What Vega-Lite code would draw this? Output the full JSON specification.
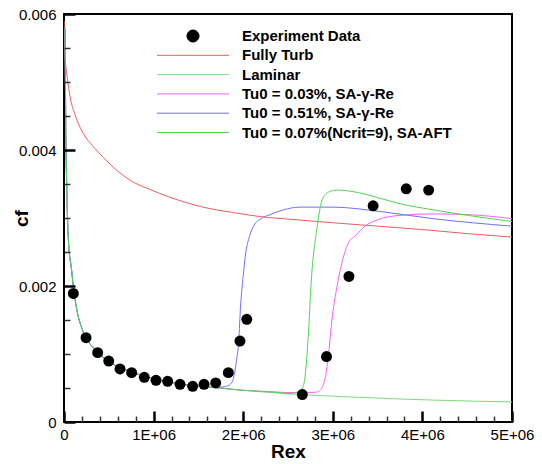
{
  "$schema": "https://vega.github.io/schema/vega-lite/v6.json",
  "width": 448,
  "height": 408,
  "autosize": {"type": "none"},
  "padding": {"left": 64, "top": 14, "right": 30, "bottom": 42},
  "background": "white",
  "config": {
    "view": {"stroke": "black", "strokeWidth": 2},
    "axis": {"grid": false, "domain": false, "labelFont": "Liberation Sans", "labelFontSize": 15, "labelColor": "black", "titleFont": "Liberation Sans", "titleFontSize": 19, "titleFontWeight": "bold", "titleColor": "black", "labelFlush": false, "labelOverlap": false, "labelBound": false}
  },
  "datasets": {
    "pts": [
      {"series": "Experiment Data", "Rex": 104000, "cf": 0.00189},
      {"series": "Experiment Data", "Rex": 246000, "cf": 0.00124},
      {"series": "Experiment Data", "Rex": 376000, "cf": 0.00102},
      {"series": "Experiment Data", "Rex": 499000, "cf": 0.000897},
      {"series": "Experiment Data", "Rex": 625000, "cf": 0.00078},
      {"series": "Experiment Data", "Rex": 755000, "cf": 0.000726},
      {"series": "Experiment Data", "Rex": 896000, "cf": 0.000657},
      {"series": "Experiment Data", "Rex": 1027000, "cf": 0.000613},
      {"series": "Experiment Data", "Rex": 1157000, "cf": 0.000599},
      {"series": "Experiment Data", "Rex": 1295000, "cf": 0.000554},
      {"series": "Experiment Data", "Rex": 1436000, "cf": 0.000525},
      {"series": "Experiment Data", "Rex": 1563000, "cf": 0.000554},
      {"series": "Experiment Data", "Rex": 1693000, "cf": 0.000574},
      {"series": "Experiment Data", "Rex": 1834000, "cf": 0.000726},
      {"series": "Experiment Data", "Rex": 1964000, "cf": 0.00119},
      {"series": "Experiment Data", "Rex": 2040000, "cf": 0.00151},
      {"series": "Experiment Data", "Rex": 2660000, "cf": 0.000403},
      {"series": "Experiment Data", "Rex": 2930000, "cf": 0.000962},
      {"series": "Experiment Data", "Rex": 3180000, "cf": 0.00214},
      {"series": "Experiment Data", "Rex": 3450000, "cf": 0.00318},
      {"series": "Experiment Data", "Rex": 3820000, "cf": 0.00343},
      {"series": "Experiment Data", "Rex": 4070000, "cf": 0.00341}
    ],
    "curves": [
      {"series": "Fully Turb", "Rex": 1000, "cf": 0.0059},
      {"series": "Fully Turb", "Rex": 10000, "cf": 0.0054},
      {"series": "Fully Turb", "Rex": 33000, "cf": 0.0051},
      {"series": "Fully Turb", "Rex": 70000, "cf": 0.00477},
      {"series": "Fully Turb", "Rex": 123000, "cf": 0.00452},
      {"series": "Fully Turb", "Rex": 200000, "cf": 0.00428},
      {"series": "Fully Turb", "Rex": 327000, "cf": 0.00405},
      {"series": "Fully Turb", "Rex": 440000, "cf": 0.00389},
      {"series": "Fully Turb", "Rex": 590000, "cf": 0.0037},
      {"series": "Fully Turb", "Rex": 770000, "cf": 0.00353},
      {"series": "Fully Turb", "Rex": 960000, "cf": 0.00342},
      {"series": "Fully Turb", "Rex": 1150000, "cf": 0.00332},
      {"series": "Fully Turb", "Rex": 1330000, "cf": 0.00324},
      {"series": "Fully Turb", "Rex": 1520000, "cf": 0.00317},
      {"series": "Fully Turb", "Rex": 1700000, "cf": 0.00312},
      {"series": "Fully Turb", "Rex": 1890000, "cf": 0.00308},
      {"series": "Fully Turb", "Rex": 2080000, "cf": 0.00304},
      {"series": "Fully Turb", "Rex": 2260000, "cf": 0.00301},
      {"series": "Fully Turb", "Rex": 2450000, "cf": 0.00299},
      {"series": "Fully Turb", "Rex": 2630000, "cf": 0.00297},
      {"series": "Fully Turb", "Rex": 3000000, "cf": 0.00293},
      {"series": "Fully Turb", "Rex": 3500000, "cf": 0.00288},
      {"series": "Fully Turb", "Rex": 4000000, "cf": 0.00283},
      {"series": "Fully Turb", "Rex": 4500000, "cf": 0.00277},
      {"series": "Fully Turb", "Rex": 5000000, "cf": 0.00272},

      {"series": "Laminar", "Rex": 12000, "cf": 0.0058},
      {"series": "Laminar", "Rex": 20000, "cf": 0.0043},
      {"series": "Laminar", "Rex": 30000, "cf": 0.0035},
      {"series": "Laminar", "Rex": 48000, "cf": 0.0027},
      {"series": "Laminar", "Rex": 86000, "cf": 0.00222},
      {"series": "Laminar", "Rex": 104000, "cf": 0.00199},
      {"series": "Laminar", "Rex": 142000, "cf": 0.00166},
      {"series": "Laminar", "Rex": 216000, "cf": 0.00132},
      {"series": "Laminar", "Rex": 327000, "cf": 0.00109},
      {"series": "Laminar", "Rex": 513000, "cf": 0.00088},
      {"series": "Laminar", "Rex": 700000, "cf": 0.00076},
      {"series": "Laminar", "Rex": 885000, "cf": 0.00068},
      {"series": "Laminar", "Rex": 1070000, "cf": 0.000615},
      {"series": "Laminar", "Rex": 1370000, "cf": 0.000545},
      {"series": "Laminar", "Rex": 1700000, "cf": 0.000505},
      {"series": "Laminar", "Rex": 2000000, "cf": 0.000466},
      {"series": "Laminar", "Rex": 2500000, "cf": 0.000415},
      {"series": "Laminar", "Rex": 3190000, "cf": 0.000368},
      {"series": "Laminar", "Rex": 4120000, "cf": 0.000322},
      {"series": "Laminar", "Rex": 5000000, "cf": 0.000295},

      {"series": "Tu0 = 0.03%, SA-γ-Re", "Rex": 12000, "cf": 0.0058},
      {"series": "Tu0 = 0.03%, SA-γ-Re", "Rex": 20000, "cf": 0.0043},
      {"series": "Tu0 = 0.03%, SA-γ-Re", "Rex": 30000, "cf": 0.0035},
      {"series": "Tu0 = 0.03%, SA-γ-Re", "Rex": 48000, "cf": 0.0027},
      {"series": "Tu0 = 0.03%, SA-γ-Re", "Rex": 86000, "cf": 0.00222},
      {"series": "Tu0 = 0.03%, SA-γ-Re", "Rex": 104000, "cf": 0.00199},
      {"series": "Tu0 = 0.03%, SA-γ-Re", "Rex": 142000, "cf": 0.00166},
      {"series": "Tu0 = 0.03%, SA-γ-Re", "Rex": 216000, "cf": 0.00132},
      {"series": "Tu0 = 0.03%, SA-γ-Re", "Rex": 327000, "cf": 0.00109},
      {"series": "Tu0 = 0.03%, SA-γ-Re", "Rex": 513000, "cf": 0.00088},
      {"series": "Tu0 = 0.03%, SA-γ-Re", "Rex": 700000, "cf": 0.00076},
      {"series": "Tu0 = 0.03%, SA-γ-Re", "Rex": 885000, "cf": 0.00068},
      {"series": "Tu0 = 0.03%, SA-γ-Re", "Rex": 1070000, "cf": 0.000615},
      {"series": "Tu0 = 0.03%, SA-γ-Re", "Rex": 1370000, "cf": 0.000545},
      {"series": "Tu0 = 0.03%, SA-γ-Re", "Rex": 1700000, "cf": 0.000505},
      {"series": "Tu0 = 0.03%, SA-γ-Re", "Rex": 2000000, "cf": 0.000466},
      {"series": "Tu0 = 0.03%, SA-γ-Re", "Rex": 2300000, "cf": 0.000445},
      {"series": "Tu0 = 0.03%, SA-γ-Re", "Rex": 2600000, "cf": 0.00043},
      {"series": "Tu0 = 0.03%, SA-γ-Re", "Rex": 2820000, "cf": 0.00044},
      {"series": "Tu0 = 0.03%, SA-γ-Re", "Rex": 2860000, "cf": 0.00047},
      {"series": "Tu0 = 0.03%, SA-γ-Re", "Rex": 2910000, "cf": 0.00062},
      {"series": "Tu0 = 0.03%, SA-γ-Re", "Rex": 2950000, "cf": 0.00096},
      {"series": "Tu0 = 0.03%, SA-γ-Re", "Rex": 2990000, "cf": 0.0015},
      {"series": "Tu0 = 0.03%, SA-γ-Re", "Rex": 3040000, "cf": 0.00194},
      {"series": "Tu0 = 0.03%, SA-γ-Re", "Rex": 3100000, "cf": 0.00233},
      {"series": "Tu0 = 0.03%, SA-γ-Re", "Rex": 3170000, "cf": 0.00262},
      {"series": "Tu0 = 0.03%, SA-γ-Re", "Rex": 3270000, "cf": 0.00276},
      {"series": "Tu0 = 0.03%, SA-γ-Re", "Rex": 3350000, "cf": 0.00287},
      {"series": "Tu0 = 0.03%, SA-γ-Re", "Rex": 3490000, "cf": 0.00297},
      {"series": "Tu0 = 0.03%, SA-γ-Re", "Rex": 3760000, "cf": 0.00304},
      {"series": "Tu0 = 0.03%, SA-γ-Re", "Rex": 4120000, "cf": 0.00306},
      {"series": "Tu0 = 0.03%, SA-γ-Re", "Rex": 4500000, "cf": 0.00305},
      {"series": "Tu0 = 0.03%, SA-γ-Re", "Rex": 5000000, "cf": 0.00299},

      {"series": "Tu0 = 0.51%, SA-γ-Re", "Rex": 12000, "cf": 0.0058},
      {"series": "Tu0 = 0.51%, SA-γ-Re", "Rex": 20000, "cf": 0.0043},
      {"series": "Tu0 = 0.51%, SA-γ-Re", "Rex": 30000, "cf": 0.0035},
      {"series": "Tu0 = 0.51%, SA-γ-Re", "Rex": 48000, "cf": 0.0027},
      {"series": "Tu0 = 0.51%, SA-γ-Re", "Rex": 86000, "cf": 0.00222},
      {"series": "Tu0 = 0.51%, SA-γ-Re", "Rex": 104000, "cf": 0.00199},
      {"series": "Tu0 = 0.51%, SA-γ-Re", "Rex": 142000, "cf": 0.00166},
      {"series": "Tu0 = 0.51%, SA-γ-Re", "Rex": 216000, "cf": 0.00132},
      {"series": "Tu0 = 0.51%, SA-γ-Re", "Rex": 327000, "cf": 0.00109},
      {"series": "Tu0 = 0.51%, SA-γ-Re", "Rex": 513000, "cf": 0.00088},
      {"series": "Tu0 = 0.51%, SA-γ-Re", "Rex": 700000, "cf": 0.00076},
      {"series": "Tu0 = 0.51%, SA-γ-Re", "Rex": 885000, "cf": 0.00068},
      {"series": "Tu0 = 0.51%, SA-γ-Re", "Rex": 1070000, "cf": 0.000615},
      {"series": "Tu0 = 0.51%, SA-γ-Re", "Rex": 1370000, "cf": 0.000545},
      {"series": "Tu0 = 0.51%, SA-γ-Re", "Rex": 1700000, "cf": 0.00051},
      {"series": "Tu0 = 0.51%, SA-γ-Re", "Rex": 1800000, "cf": 0.00052},
      {"series": "Tu0 = 0.51%, SA-γ-Re", "Rex": 1860000, "cf": 0.00056},
      {"series": "Tu0 = 0.51%, SA-γ-Re", "Rex": 1890000, "cf": 0.00064},
      {"series": "Tu0 = 0.51%, SA-γ-Re", "Rex": 1920000, "cf": 0.00086},
      {"series": "Tu0 = 0.51%, SA-γ-Re", "Rex": 1950000, "cf": 0.0012},
      {"series": "Tu0 = 0.51%, SA-γ-Re", "Rex": 1970000, "cf": 0.00169},
      {"series": "Tu0 = 0.51%, SA-γ-Re", "Rex": 2000000, "cf": 0.00215},
      {"series": "Tu0 = 0.51%, SA-γ-Re", "Rex": 2030000, "cf": 0.0025},
      {"series": "Tu0 = 0.51%, SA-γ-Re", "Rex": 2070000, "cf": 0.00273},
      {"series": "Tu0 = 0.51%, SA-γ-Re", "Rex": 2120000, "cf": 0.00289},
      {"series": "Tu0 = 0.51%, SA-γ-Re", "Rex": 2200000, "cf": 0.00299},
      {"series": "Tu0 = 0.51%, SA-γ-Re", "Rex": 2300000, "cf": 0.00305},
      {"series": "Tu0 = 0.51%, SA-γ-Re", "Rex": 2450000, "cf": 0.00312},
      {"series": "Tu0 = 0.51%, SA-γ-Re", "Rex": 2630000, "cf": 0.00316},
      {"series": "Tu0 = 0.51%, SA-γ-Re", "Rex": 3000000, "cf": 0.00316},
      {"series": "Tu0 = 0.51%, SA-γ-Re", "Rex": 3560000, "cf": 0.00309},
      {"series": "Tu0 = 0.51%, SA-γ-Re", "Rex": 4120000, "cf": 0.00299},
      {"series": "Tu0 = 0.51%, SA-γ-Re", "Rex": 5000000, "cf": 0.00288},

      {"series": "Tu0 = 0.07%(Ncrit=9), SA-AFT", "Rex": 12000, "cf": 0.0058},
      {"series": "Tu0 = 0.07%(Ncrit=9), SA-AFT", "Rex": 20000, "cf": 0.0043},
      {"series": "Tu0 = 0.07%(Ncrit=9), SA-AFT", "Rex": 30000, "cf": 0.0035},
      {"series": "Tu0 = 0.07%(Ncrit=9), SA-AFT", "Rex": 48000, "cf": 0.0027},
      {"series": "Tu0 = 0.07%(Ncrit=9), SA-AFT", "Rex": 86000, "cf": 0.00222},
      {"series": "Tu0 = 0.07%(Ncrit=9), SA-AFT", "Rex": 104000, "cf": 0.00199},
      {"series": "Tu0 = 0.07%(Ncrit=9), SA-AFT", "Rex": 142000, "cf": 0.00166},
      {"series": "Tu0 = 0.07%(Ncrit=9), SA-AFT", "Rex": 216000, "cf": 0.00132},
      {"series": "Tu0 = 0.07%(Ncrit=9), SA-AFT", "Rex": 327000, "cf": 0.00109},
      {"series": "Tu0 = 0.07%(Ncrit=9), SA-AFT", "Rex": 513000, "cf": 0.00088},
      {"series": "Tu0 = 0.07%(Ncrit=9), SA-AFT", "Rex": 700000, "cf": 0.00076},
      {"series": "Tu0 = 0.07%(Ncrit=9), SA-AFT", "Rex": 885000, "cf": 0.00068},
      {"series": "Tu0 = 0.07%(Ncrit=9), SA-AFT", "Rex": 1070000, "cf": 0.000615},
      {"series": "Tu0 = 0.07%(Ncrit=9), SA-AFT", "Rex": 1370000, "cf": 0.000545},
      {"series": "Tu0 = 0.07%(Ncrit=9), SA-AFT", "Rex": 1700000, "cf": 0.000505},
      {"series": "Tu0 = 0.07%(Ncrit=9), SA-AFT", "Rex": 2000000, "cf": 0.000466},
      {"series": "Tu0 = 0.07%(Ncrit=9), SA-AFT", "Rex": 2300000, "cf": 0.000445},
      {"series": "Tu0 = 0.07%(Ncrit=9), SA-AFT", "Rex": 2520000, "cf": 0.00042},
      {"series": "Tu0 = 0.07%(Ncrit=9), SA-AFT", "Rex": 2620000, "cf": 0.00045},
      {"series": "Tu0 = 0.07%(Ncrit=9), SA-AFT", "Rex": 2660000, "cf": 0.0005},
      {"series": "Tu0 = 0.07%(Ncrit=9), SA-AFT", "Rex": 2690000, "cf": 0.00066},
      {"series": "Tu0 = 0.07%(Ncrit=9), SA-AFT", "Rex": 2730000, "cf": 0.00135},
      {"series": "Tu0 = 0.07%(Ncrit=9), SA-AFT", "Rex": 2760000, "cf": 0.00208},
      {"series": "Tu0 = 0.07%(Ncrit=9), SA-AFT", "Rex": 2820000, "cf": 0.00282},
      {"series": "Tu0 = 0.07%(Ncrit=9), SA-AFT", "Rex": 2880000, "cf": 0.00326},
      {"series": "Tu0 = 0.07%(Ncrit=9), SA-AFT", "Rex": 2950000, "cf": 0.00338},
      {"series": "Tu0 = 0.07%(Ncrit=9), SA-AFT", "Rex": 3040000, "cf": 0.00341},
      {"series": "Tu0 = 0.07%(Ncrit=9), SA-AFT", "Rex": 3300000, "cf": 0.00337},
      {"series": "Tu0 = 0.07%(Ncrit=9), SA-AFT", "Rex": 3500000, "cf": 0.0033},
      {"series": "Tu0 = 0.07%(Ncrit=9), SA-AFT", "Rex": 3750000, "cf": 0.00321},
      {"series": "Tu0 = 0.07%(Ncrit=9), SA-AFT", "Rex": 4120000, "cf": 0.00312},
      {"series": "Tu0 = 0.07%(Ncrit=9), SA-AFT", "Rex": 4500000, "cf": 0.00304},
      {"series": "Tu0 = 0.07%(Ncrit=9), SA-AFT", "Rex": 5000000, "cf": 0.00295}
    ]
  },
  "encoding": {
    "color": {
      "field": "series", "type": "nominal",
      "scale": {
        "domain": ["Experiment Data", "Fully Turb", "Laminar", "Tu0 = 0.03%, SA-γ-Re", "Tu0 = 0.51%, SA-γ-Re", "Tu0 = 0.07%(Ncrit=9), SA-AFT"],
        "range": ["#000000", "#ee5c5c", "#7ddc7d", "#ff5cff", "#7070ff", "#4fd64f"]
      },
      "legend": {
        "orient": "none", "legendX": 121.5, "legendY": 14.5, "title": null, "padding": 0,
        "labelFont": "Liberation Sans", "labelFontSize": 15, "labelFontWeight": "bold", "labelColor": "black",
        "labelLimit": 400, "symbolSize": 64, "labelOffset": 41.5, "symbolOffset": 0, "rowPadding": 3.3,
        "encode": {"symbols": {"update": {
          "shape": {"signal": "datum.value === 'Experiment Data' ? 'M1.5,0A1.5,1.5,0,1,1,-1.5,0A1.5,1.5,0,1,1,1.5,0Z' : 'M-9,0H9'"},
          "fill": {"signal": "datum.value === 'Experiment Data' ? 'black' : 'transparent'"},
          "stroke": {"signal": "datum.value === 'Experiment Data' ? 'transparent' : scale('color', datum.value)"},
          "strokeWidth": {"value": 1},
          "opacity": {"value": 1},
          "size": {"value": 64}
        }}}
      }
    }
  },
  "layer": [
    {
      "data": {"name": "curves"},
      "mark": {"type": "line", "strokeWidth": 1, "interpolate": "monotone", "clip": true},
      "encoding": {
        "x": {
          "field": "Rex", "type": "quantitative",
          "scale": {"domain": [0, 5000000], "nice": false, "zero": false},
          "axis": {
            "orient": "bottom", "title": null, "labels": false, "offset": -6, "tickSize": 6, "tickWidth": 1.5, "tickColor": "#333333", "ticks": true, "zindex": 5,
            "values": [200000, 400000, 600000, 800000, 1200000, 1400000, 1600000, 1800000, 2200000, 2400000, 2600000, 2800000, 3200000, 3400000, 3600000, 3800000, 4200000, 4400000, 4600000, 4800000]
          }
        },
        "y": {
          "field": "cf", "type": "quantitative",
          "scale": {"domain": [0, 0.006], "nice": false, "zero": false},
          "axis": {
            "orient": "left", "title": null, "labels": false, "offset": -6, "tickSize": 6, "tickWidth": 1.5, "tickColor": "#333333", "ticks": true, "zindex": 5,
            "values": [0.0005, 0.001, 0.0015, 0.0025, 0.003, 0.0035, 0.0045, 0.005, 0.0055]
          }
        }
      }
    },
    {
      "data": {"name": "pts"},
      "mark": {"type": "point", "filled": true, "size": 120, "opacity": 1, "shape": "circle"},
      "encoding": {
        "x": {
          "field": "Rex", "type": "quantitative",
          "scale": {"domain": [0, 5000000], "nice": false, "zero": false},
          "axis": {
            "orient": "bottom", "title": "Rex", "offset": -11, "tickSize": 11, "tickWidth": 2.5, "tickColor": "black", "ticks": true, "zindex": 5,
            "values": [0, 1000000, 2000000, 3000000, 4000000, 5000000],
            "labelExpr": "datum.value == 0 ? '0' : (datum.value / 1000000) + 'E+06'",
            "labelPadding": 5,
            "titleX": 224, "titleY": 46, "titleBaseline": "alphabetic", "titleAlign": "center"
          }
        },
        "y": {
          "field": "cf", "type": "quantitative",
          "scale": {"domain": [0, 0.006], "nice": false, "zero": false},
          "axis": {
            "orient": "left", "title": "cf", "offset": -11, "tickSize": 11, "tickWidth": 2.5, "tickColor": "black", "ticks": true, "zindex": 5,
            "values": [0, 0.002, 0.004, 0.006],
            "labelExpr": "datum.value == 0 ? '0' : format(datum.value, '.3f')",
            "labelPadding": 8,
            "titleX": -48, "titleY": 204, "titleBaseline": "alphabetic", "titleAlign": "center", "titleAngle": 270
          }
        }
      }
    }
  ],
  "resolve": {"axis": {"x": "independent", "y": "independent"}}
}
